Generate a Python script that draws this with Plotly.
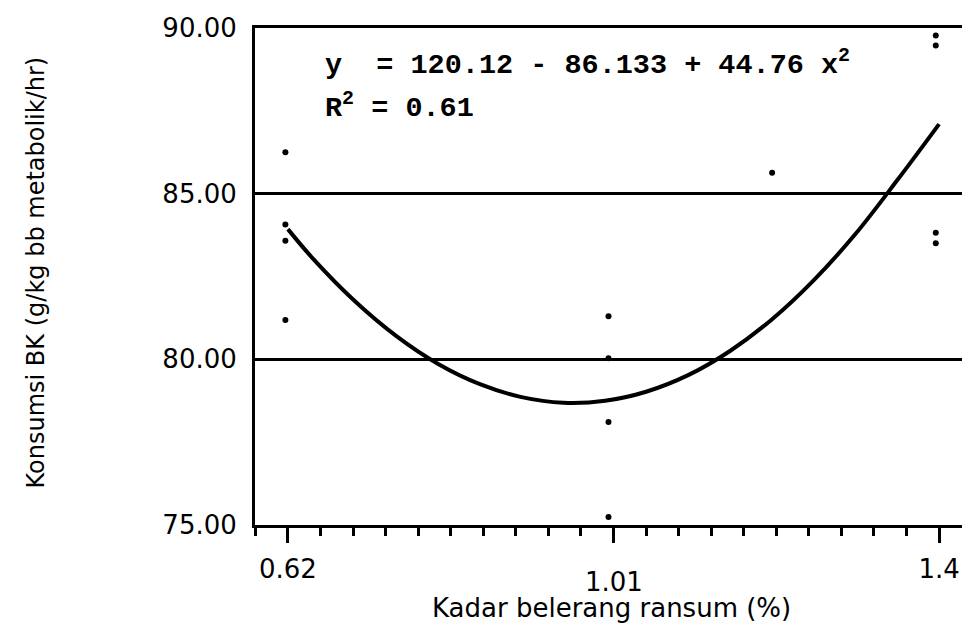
import plotly.graph_objects as go

# Observed data points (x = sulphur level %, y = DM intake)
pts_x = [0.617, 0.617, 0.617, 0.617,
         1.004, 1.004, 1.004, 1.004,
         1.200,
         1.396, 1.396, 1.396, 1.396]
pts_y = [86.25, 84.07, 83.58, 81.19,
         81.30, 80.03, 78.11, 75.24,
         85.63,
         89.77, 89.47, 83.82, 83.50]

# Fitted curve
curve_x = [0.62, 0.65, 0.70, 0.75, 0.80, 0.85, 0.90, 0.95, 1.00,
           1.05, 1.10, 1.15, 1.20, 1.25, 1.30, 1.35, 1.40]
curve_y = [83.93, 83.04, 81.76, 80.70, 79.86, 79.25, 78.86, 78.69, 78.75,
           79.03, 79.53, 80.26, 81.21, 82.39, 83.79, 85.41, 87.10]

x_tickvals = [0.62, 1.01, 1.4]
x_ticktext = ["0.62", " ", "1.4"]
x_lowered_label = "1.01"
y_tickvals = [75, 80, 85, 90]
y_ticktext = ["75.00", "80.00", "85.00", "90.00"]

eq_line1 = "y  = 120.12 - 86.133 + 44.76 x<sup>2</sup>"
eq_line2 = "R<sup>2</sup> = 0.61"
x_title = "Kadar belerang ransum (%)"
y_title = "Konsumsi BK (g/kg bb metabolik/hr)"

FONT = "DejaVu Sans"
MONO = "Liberation Mono"

W, H = 970, 626
L, R, T, B = 247, 5, 15, 109
PW, PH = W - L - R, H - T - B


def px(xp):
    return (xp - L) / PW


def py(yp):
    return (H - B - yp) / PH


fig = go.Figure()
fig.add_trace(go.Scatter(x=curve_x, y=curve_y, mode="lines",
                         line=dict(color="black", width=4, shape="spline"),
                         hoverinfo="skip"))
fig.add_trace(go.Scatter(x=pts_x, y=pts_y, mode="markers",
                         marker=dict(color="black", size=6)))

fig.update_layout(
    width=W, height=H,
    margin=dict(l=L, r=R, t=T, b=B),
    paper_bgcolor="white", plot_bgcolor="white",
    showlegend=False,
    font=dict(family=FONT, color="black", size=26),
)
fig.update_xaxes(
    range=[0.5806, 1.437],
    tickmode="array", tickvals=x_tickvals, ticktext=x_ticktext,
    ticks="outside", ticklen=15, tickwidth=3, tickcolor="black",
    minor=dict(tickmode="linear", tick0=0.62, dtick=0.039, ticks="outside",
               ticklen=8, tickwidth=3, tickcolor="black", showgrid=False),
    showgrid=False, zeroline=False,
    showline=True, linecolor="black", linewidth=3, mirror=True,
    tickfont=dict(family=FONT, size=26, color="black"),
    ticklabelstandoff=4,
)
fig.update_yaxes(
    range=[75, 90],
    tickmode="array", tickvals=y_tickvals, ticktext=y_ticktext,
    ticks="", showgrid=True, gridcolor="black", gridwidth=3,
    zeroline=False,
    showline=True, linecolor="black", linewidth=3, mirror=True,
    tickfont=dict(family=FONT, size=26, color="black"),
    ticklabelstandoff=10, ticklabeloverflow="allow",
)

# lowered "1.01" tick label
fig.add_annotation(x=1.01, xref="x", y=py(591), yref="paper", yanchor="bottom",
                   text=x_lowered_label, showarrow=False, borderpad=0,
                   font=dict(family=FONT, size=26, color="black"))
# x axis title
fig.add_annotation(x=px(605), xref="paper", y=py(617), yref="paper",
                   text=x_title, showarrow=False, xanchor="center", yanchor="bottom",
                   borderpad=0,
                   font=dict(family=FONT, size=26, color="black"))
# y axis title
fig.add_annotation(x=px(27), xref="paper", y=py(262), yref="paper",
                   text=y_title, textangle=-90, showarrow=False,
                   xanchor="center", yanchor="middle",
                   font=dict(family=FONT, size=24, color="black"))
# regression equation
fig.add_annotation(x=px(315), xref="paper", y=py(72), yref="paper",
                   text="<b>" + eq_line1 + "</b>", showarrow=False,
                   xanchor="left", yanchor="bottom",
                   font=dict(family=MONO, size=28.5, color="black"))
fig.add_annotation(x=px(315), xref="paper", y=py(115), yref="paper",
                   text="<b>" + eq_line2 + "</b>", showarrow=False,
                   xanchor="left", yanchor="bottom",
                   font=dict(family=MONO, size=28.5, color="black"))

fig.write_html("out.html")
